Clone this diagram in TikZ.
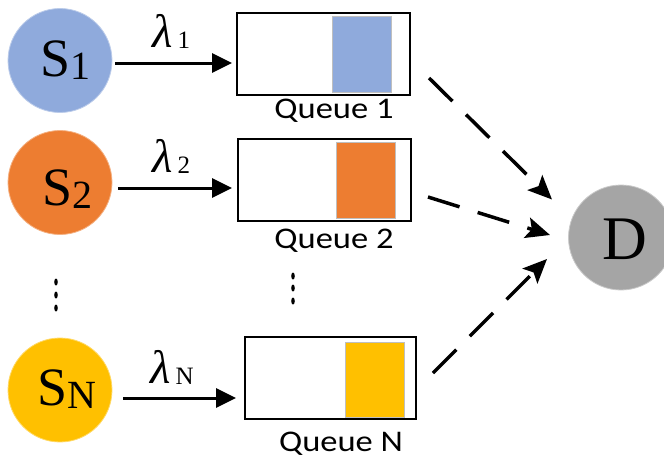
\documentclass[tikz,border=0pt]{standalone}
\usepackage{fontspec}
\setmainfont{Liberation Serif}
\newfontfamily\carlito{Carlito}
\usetikzlibrary{arrows.meta,shapes.geometric}
\definecolor{sblue}{HTML}{8FAADC}
\definecolor{sorange}{HTML}{ED7D31}
\definecolor{syellow}{HTML}{FFC000}
\definecolor{sgray}{HTML}{A5A5A5}
\newcommand{\bigS}[1]{{\fontsize{54}{54}\selectfont S\raisebox{-3pt}{\fontsize{40}{40}\selectfont #1}}}
\newcommand{\lam}[1]{{\fontsize{47}{47}\selectfont\itshape λ\hspace{5pt}\upshape\fontsize{25}{25}\selectfont\raisebox{-1pt}{#1}}}
\newcommand{\qlabel}[1]{\scalebox{1.15}[1]{\carlito\fontsize{30}{30}\selectfont #1}}
\begin{document}
\begin{tikzpicture}[x=1pt,y=-1pt,
  src/.style={circle,minimum size=104pt,inner sep=0pt,line width=0.8pt},
  qbox/.style={draw=black,line width=2pt,inner sep=0pt,minimum height=82pt},
  pkt/.style={draw=black!25,line width=0.8pt,inner sep=0pt,minimum width=59pt},
  flow/.style={-{Triangle[length=20pt,width=19pt]},line width=3pt},
  dflow/.style={-{Stealth[length=24pt,width=21pt,inset=5pt]},line width=3.5pt,dash pattern=on 33pt off 19pt},
  txt/.style={inner sep=0pt,anchor=base west},
  qtxt/.style={inner sep=0pt,anchor=base},
  vdot/.style={ellipse,fill=black,inner sep=0pt,minimum width=3.6pt,minimum height=7pt}]
\useasboundingbox (0,0) rectangle (664,458);

% sources
\node[src,fill=sblue,draw=sblue!60!white] (s1) at (60,60.5) {};
\node[src,fill=sorange,draw=sorange!60!white] (s2) at (60,182.5) {};
\node[src,fill=syellow,draw=syellow!60!white] (sn) at (60,390) {};
\node[src,fill=sgray,draw=sgray!60!white,minimum size=105pt] (d) at (621,237.5) {};

\node[txt] (s1t) at (40,76) {\bigS{1}};
\node[txt] (s2t) at (42,205) {\bigS{2}};
\node[txt] (snt) at (37,405) {\bigS{N}};
\node[qtxt] (dt) at (625,259) {\fontsize{62}{62}\selectfont D};

% queues
\node[qbox,minimum width=173pt] (q1) at (323.5,54) {};
\node[pkt,fill=sblue,minimum height=76pt] (f1) at (361.5,54) {};
\node[qbox,minimum width=173pt] (q2) at (324.5,180) {};
\node[pkt,fill=sorange,minimum height=76pt] (f2) at (365.5,180) {};
\node[qbox,minimum width=171pt] (qn) at (330.5,378) {};
\node[pkt,fill=syellow,minimum height=75pt] (fn) at (374.5,379.5) {};

\node[qtxt] (q1t) at (334,118) {\qlabel{Queue 1}};
\node[qtxt] (q2t) at (334,248) {\qlabel{Queue 2}};
\node[qtxt] (qnt) at (341,451) {\qlabel{Queue N}};

% rates
\node[txt] (l1) at (152,47) {\lam{1}};
\node[txt] (l2) at (152,172) {\lam{2}};
\node[txt] (ln) at (150,383) {\lam{N}};

% vertical dots
\node[vdot] (a1) at (56,282) {};
\node[vdot] (a2) at (56,295) {};
\node[vdot] (a3) at (56,308) {};
\node[vdot] (b1) at (293,276) {};
\node[vdot] (b2) at (293,288) {};
\node[vdot] (b3) at (293,301) {};

% arrivals
\draw[flow] ([shift={(3,2.5)}]s1.east) -- ([shift={(-4,9)}]q1.west);
\draw[flow] ([shift={(6,5.5)}]s2.east) -- ([shift={(-5,8)}]q2.west);
\draw[flow] ([shift={(11,8)}]sn.east) -- ([shift={(-8,20)}]qn.west);

% departures
\draw[dflow] ([shift={(18,24)}]q1.east) -- ([shift={(-69,-38)}]d.center);
\draw[dflow] ([shift={(16,17)}]q2.east) -- ([shift={(-71,-2.5)}]d.center);
\draw[dflow] ([shift={(16,-5)}]qn.east) -- ([shift={(-74,21.5)}]d.center);
\end{tikzpicture}
\end{document}
